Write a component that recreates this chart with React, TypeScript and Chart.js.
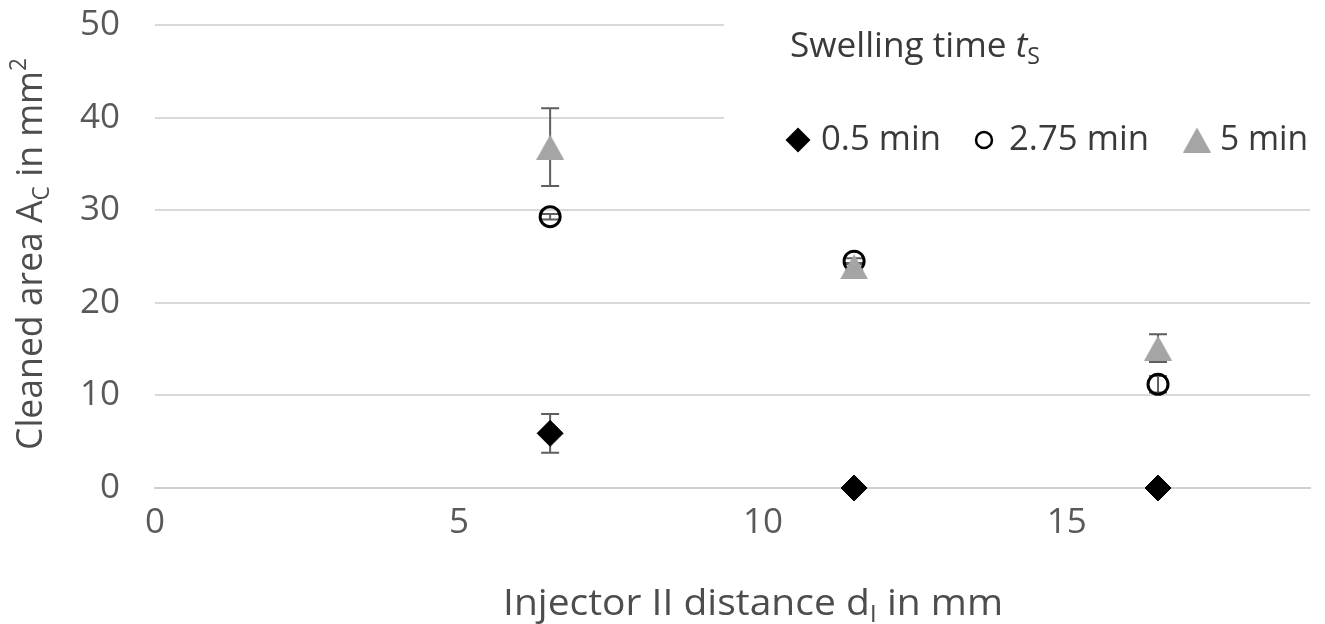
import React, { useEffect, useRef } from 'react';
import { Chart, registerables } from 'chart.js';

Chart.register(...registerables);

// ---- data ----
const xTicks = [0, 5, 10, 15];
const yTicks = [0, 10, 20, 30, 40, 50];
const distances = [6.5, 11.5, 16.5];
const values05 = [5.9, 0, 0];
const errors05 = [2.1, 0, 0];
const values275 = [29.3, 24.5, 11.2];
const errors275 = [0.3, 0.3, 0.9];
const values5 = [36.8, 23.9, 15.1];
const errors5 = [4.2, 0.4, 1.5];
const seriesLabels = ['0.5 min', '2.75 min', '5 min'];

const FONT = '"Open Sans"';
const TRI_COLOR = '#a5a5a5';

type Run = { t: string; sub?: boolean; sup?: boolean; italic?: boolean };

function drawRuns(
  ctx: CanvasRenderingContext2D,
  runs: Run[],
  x: number,
  y: number,
  size: number,
  color: string,
  align: 'left' | 'center',
  targetWidth?: number
) {
  const fontFor = (r: Run) =>
    `${r.italic ? 'italic ' : ''}${r.sub || r.sup ? Math.round(size * 0.65) : size}px ${FONT}`;
  let w = 0;
  const widths = runs.map((r) => {
    ctx.font = fontFor(r);
    const m = ctx.measureText(r.t).width;
    w += m;
    return m;
  });
  const sx = targetWidth ? targetWidth / w : 1;
  ctx.save();
  ctx.translate(x, y);
  ctx.scale(sx, 1);
  let cx = align === 'center' ? -w / 2 : 0;
  ctx.fillStyle = color;
  ctx.textBaseline = 'middle';
  ctx.textAlign = 'left';
  runs.forEach((r, i) => {
    ctx.font = fontFor(r);
    const dy = r.sub ? size * 0.3 : r.sup ? -size * 0.35 : 0;
    ctx.fillText(r.t, cx, dy);
    cx += widths[i];
  });
  ctx.restore();
}

function makeTriangle(w: number, h: number, color: string) {
  const c = document.createElement('canvas');
  c.width = w;
  c.height = h;
  const g = c.getContext('2d')!;
  g.fillStyle = color;
  g.beginPath();
  g.moveTo(w / 2, 0);
  g.lineTo(w, h);
  g.lineTo(0, h);
  g.closePath();
  g.fill();
  return c;
}

export default function App() {
  const ref = useRef<HTMLCanvasElement>(null);

  useEffect(() => {
    if (!ref.current) return;
    const tri = makeTriangle(28, 25, TRI_COLOR);

    const seriesList = [
      { vals: values05, errs: errors05 },
      { vals: values275, errs: errors275 },
      { vals: values5, errs: errors5 },
    ];

    const overlay = {
      id: 'overlay',
      beforeDatasetsDraw(chart: any) {
        const { ctx, scales } = chart;
        const xs = scales.x;
        const ys = scales.y;
        ctx.save();
        // legend background
        ctx.fillStyle = '#ffffff';
        ctx.fillRect(724, 8, 601, 172);
        // error bars
        ctx.strokeStyle = '#5e5e5e';
        ctx.lineWidth = 2;
        seriesList.forEach(({ vals, errs }) => {
          distances.forEach((d, i) => {
            const e = errs[i];
            if (!e) return;
            const px = xs.getPixelForValue(d);
            const top = ys.getPixelForValue(vals[i] + e);
            const bot = ys.getPixelForValue(vals[i] - e);
            ctx.beginPath();
            ctx.moveTo(px, top);
            ctx.lineTo(px, bot);
            ctx.moveTo(px - 9, top);
            ctx.lineTo(px + 9, top);
            ctx.moveTo(px - 9, bot);
            ctx.lineTo(px + 9, bot);
            ctx.stroke();
          });
        });
        ctx.restore();
      },
      afterDraw(chart: any) {
        const { ctx } = chart;
        ctx.save();
        const axisColor = '#4d4d4d';
        // x title
        drawRuns(
          ctx,
          [{ t: 'Injector II distance d' }, { t: 'I', sub: true }, { t: ' in mm' }],
          753,
          604,
          37,
          axisColor,
          'center',
          500
        );
        // y title
        ctx.save();
        ctx.translate(32, 254);
        ctx.rotate(-Math.PI / 2);
        drawRuns(
          ctx,
          [{ t: 'Cleaned area A' }, { t: 'C', sub: true }, { t: ' in mm' }, { t: '2', sup: true }],
          0,
          0,
          36,
          axisColor,
          'center',
          392
        );
        ctx.restore();

        // legend
        const legColor = '#3a3a3a';
        drawRuns(
          ctx,
          [{ t: 'Swelling time ' }, { t: 't', italic: true }, { t: 'S', sub: true }],
          790,
          47,
          35,
          legColor,
          'left',
          250
        );
        const ly = 140;
        // diamond
        ctx.fillStyle = '#000';
        ctx.beginPath();
        ctx.moveTo(798, ly - 12.5);
        ctx.lineTo(810.5, ly);
        ctx.lineTo(798, ly + 12.5);
        ctx.lineTo(785.5, ly);
        ctx.closePath();
        ctx.fill();
        drawRuns(ctx, [{ t: seriesLabels[0] }], 821, ly, 35, legColor, 'left', 120);
        // circle
        ctx.strokeStyle = '#000';
        ctx.lineWidth = 2.5;
        ctx.beginPath();
        ctx.arc(984, ly, 8, 0, Math.PI * 2);
        ctx.stroke();
        drawRuns(ctx, [{ t: seriesLabels[1] }], 1009, ly, 35, legColor, 'left', 140);
        // triangle
        ctx.drawImage(tri, 1197 - 14, ly - 12.5);
        drawRuns(ctx, [{ t: seriesLabels[2] }], 1220, ly, 35, legColor, 'left', 88);
        ctx.restore();
      },
    };

    const chart = new Chart(ref.current, {
      type: 'scatter',
      data: {
        datasets: [
          {
            label: seriesLabels[0],
            data: distances.map((d, i) => ({ x: d, y: values05[i] })),
            pointStyle: 'rectRot',
            pointRadius: 13,
            backgroundColor: '#000',
            borderColor: '#000',
            borderWidth: 1,
            order: 2,
            clip: false,
          },
          {
            label: seriesLabels[1],
            data: distances.map((d, i) => ({ x: d, y: values275[i] })),
            pointStyle: 'circle',
            pointRadius: 10,
            backgroundColor: 'rgba(0,0,0,0)',
            borderColor: '#000',
            borderWidth: 3,
            order: 1,
            clip: false,
          },
          {
            label: seriesLabels[2],
            data: distances.map((d, i) => ({ x: d, y: values5[i] })),
            pointStyle: tri,
            pointRadius: 14,
            backgroundColor: TRI_COLOR,
            borderColor: TRI_COLOR,
            order: 0,
            clip: false,
          },
        ],
      },
      options: {
        responsive: false,
        animation: false,
        devicePixelRatio: 1,
        layout: { padding: { top: 25, right: 9, left: 0, bottom: 0 } },
        plugins: {
          legend: { display: false },
          tooltip: { enabled: false },
        },
        scales: {
          x: {
            type: 'linear',
            min: 0,
            max: 19,
            afterBuildTicks: (s: any) => {
              s.ticks = xTicks.map((v) => ({ value: v }));
            },
            afterFit: (s: any) => {
              s.height = 136;
              s.paddingLeft = 0;
              s.paddingRight = 0;
            },
            grid: { display: false, drawTicks: false },
            border: { display: true, color: '#cfcfcf', width: 2 },
            ticks: {
              font: { family: 'Open Sans', size: 35 },
              color: '#595959',
              padding: 14,
              maxRotation: 0,
            },
          },
          y: {
            type: 'linear',
            min: 0,
            max: 50,
            afterBuildTicks: (s: any) => {
              s.ticks = yTicks.map((v) => ({ value: v }));
            },
            afterFit: (s: any) => {
              s.width = 155;
              s.paddingTop = 0;
              s.paddingBottom = 0;
            },
            grid: { color: '#d9d9d9', lineWidth: 2, drawTicks: false },
            border: { display: false },
            ticks: {
              font: { family: 'Open Sans', size: 35 },
              color: '#595959',
              padding: 35,
            },
          },
        },
      },
      plugins: [overlay],
    } as any);

    return () => chart.destroy();
  }, []);

  return (
    <div style={{ position: 'absolute', left: 0, top: 0, width: 1325, height: 624, background: '#fff' }}>
      <canvas ref={ref} width={1325} height={624} style={{ display: 'block' }} />
    </div>
  );
}
